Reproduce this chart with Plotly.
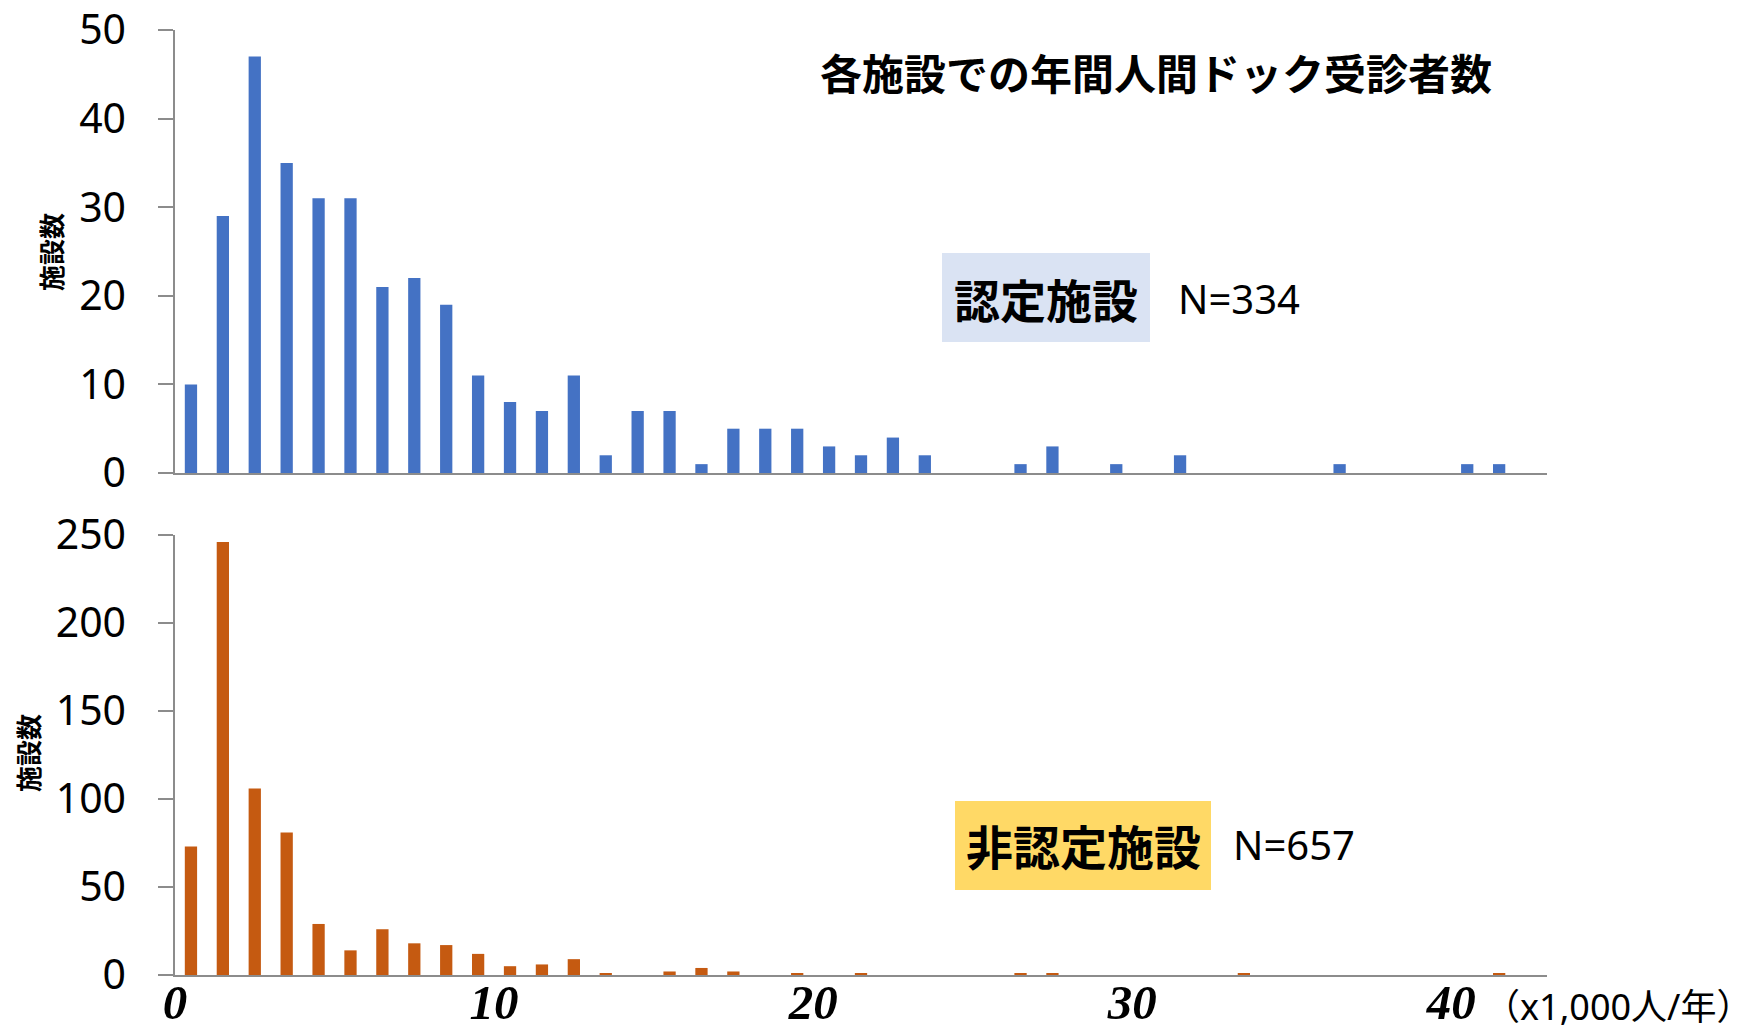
import plotly.graph_objects as go
from plotly.subplots import make_subplots

# Histogram bins: annual health-checkup examinees per facility, in thousands (bin lower bound)
bin_start = list(range(43))

# Number of facilities per bin: accredited facilities (N=334)
accredited_counts = [
    10, 29, 47, 35, 31, 31, 21, 22, 19, 11,
    8, 7, 11, 2, 7, 7, 1, 5, 5, 5,
    3, 2, 4, 2, 0, 0, 1, 3, 0, 1,
    0, 2, 0, 0, 0, 0, 1, 0, 0, 0,
    1, 1, 0,
]

# Number of facilities per bin: non-accredited facilities (N=657)
non_accredited_counts = [
    73, 246, 106, 81, 29, 14, 26, 18, 17, 12,
    5, 6, 9, 1, 0, 2, 4, 2, 0, 1,
    0, 1, 0, 0, 0, 0, 1, 1, 0, 0,
    0, 0, 0, 1, 0, 0, 0, 0, 0, 0,
    0, 1, 0,
]

x_tick_values = [0, 10, 20, 30, 40]
x_tick_labels = ["0", "10", "20", "30", "40"]
top_y_ticks = [0, 10, 20, 30, 40, 50]
bottom_y_ticks = [0, 50, 100, 150, 200, 250]

title_text = "各施設での年間人間ドック受診者数"
y_title = "施設数"
unit_text = "（x1,000人/年）"
label_top = "認定施設"
label_top_n = "N=334"
label_bottom = "非認定施設"
label_bottom_n = "N=657"

# Page geometry (pixels)
W, H = 1756, 1033
ML, MR, MT, MB = 175, 209, 30, 58
PW, PH = W - ML - MR, H - MT - MB


def px(x):
    return (x - ML) / PW


def py(y):
    return (H - MB - y) / PH


BLUE = "#4472C4"
ORANGE = "#C55A11"
AXIS_GREY = "#8C8C8C"
CJK = "Noto Sans CJK JP"
LATIN = "Noto Sans, Noto Sans CJK JP"

bar_x = [b + 0.5 for b in bin_start]

fig = make_subplots(rows=2, cols=1, shared_xaxes=False, vertical_spacing=0.0)

fig.add_trace(go.Bar(x=bar_x, y=accredited_counts, width=0.385,
                     marker=dict(color=BLUE, line=dict(width=0)),
                     showlegend=False, hoverinfo="x+y"), row=1, col=1)
fig.add_trace(go.Bar(x=bar_x, y=non_accredited_counts, width=0.385,
                     marker=dict(color=ORANGE, line=dict(width=0)),
                     showlegend=False, hoverinfo="x+y"), row=2, col=1)

common_x = dict(range=[0, 43], showline=True, linecolor=AXIS_GREY, linewidth=1.5,
                showgrid=False, zeroline=False, ticks="", automargin=False)
common_y = dict(showline=True, linecolor=AXIS_GREY, linewidth=1.5, showgrid=False,
                zeroline=False, ticks="outside", ticklen=15, tickwidth=1.5,
                tickcolor=AXIS_GREY, ticklabelstandoff=24, automargin=False,
                tickfont=dict(family=LATIN, size=41, color="#000000"))

fig.update_layout(
    width=W, height=H,
    margin=dict(l=ML, r=MR, t=MT, b=MB, autoexpand=False),
    paper_bgcolor="white", plot_bgcolor="white",
    bargap=0.6,
    xaxis=dict(common_x, domain=[0, 1], showticklabels=False),
    yaxis=dict(common_y, domain=[py(473), 1.0], range=[0, 50], tickvals=top_y_ticks),
    xaxis2=dict(common_x, domain=[0, 1], tickvals=x_tick_values, ticktext=x_tick_labels,
                ticklabelstandoff=-17,
                tickfont=dict(family="Liberation Serif", size=49, color="#000000",
                              style="italic", weight="bold")),
    yaxis2=dict(common_y, domain=[0, py(535)], range=[0, 250], tickvals=bottom_y_ticks),
)

# Category label boxes
fig.add_shape(type="rect", xref="paper", yref="paper",
              x0=px(942), x1=px(1150), y0=py(342), y1=py(253),
              fillcolor="#DAE3F3", line=dict(width=0), layer="below")
fig.add_shape(type="rect", xref="paper", yref="paper",
              x0=px(955), x1=px(1211), y0=py(890), y1=py(801),
              fillcolor="#FFD966", line=dict(width=0), layer="below")

annotations = [
    dict(text=title_text, x=px(1156), y=py(72), xanchor="center", yanchor="middle",
         font=dict(family=CJK, size=42, color="#000000", weight="bold")),
    dict(text=label_top, x=px(1046), y=py(298), xanchor="center", yanchor="middle",
         font=dict(family=CJK, size=46, color="#000000", weight="bold")),
    dict(text=label_top_n, x=px(1176), y=py(298), xanchor="left", yanchor="middle",
         font=dict(family=LATIN, size=40, color="#000000")),
    dict(text=label_bottom, x=px(1083), y=py(844), xanchor="center", yanchor="middle",
         font=dict(family=CJK, size=47, color="#000000", weight="bold")),
    dict(text=label_bottom_n, x=px(1231), y=py(844), xanchor="left", yanchor="middle",
         font=dict(family=LATIN, size=40, color="#000000")),
    dict(text=y_title, x=px(50), y=py(252), xanchor="center", yanchor="middle",
         textangle=-90, font=dict(family=CJK, size=26, color="#000000", weight="bold")),
    dict(text=y_title, x=px(27), y=py(753), xanchor="center", yanchor="middle",
         textangle=-90, font=dict(family=CJK, size=26, color="#000000", weight="bold")),
    dict(text=unit_text, x=px(1754), y=py(1006), xanchor="right", yanchor="middle",
         font=dict(family=LATIN, size=36, color="#000000")),
]
for a in annotations:
    a.update(xref="paper", yref="paper", showarrow=False)
fig.update_layout(annotations=annotations)

fig.write_html("out.html")
